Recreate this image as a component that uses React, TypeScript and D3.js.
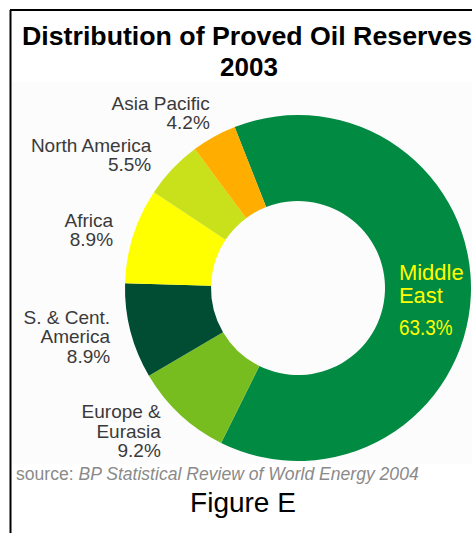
import React from "react";
import * as d3 from "d3";

const regions: string[] = ["Middle East", "Europe & Eurasia", "S. & Cent. America", "Africa", "North America", "Asia Pacific"];
const labelLines: string[][] = [["Middle", "East"], ["Europe &", "Eurasia"], ["S. & Cent.", "America"], ["Africa"], ["North America"], ["Asia Pacific"]];
const shares: number[] = [63.3, 9.2, 8.9, 8.9, 5.5, 4.2];
const colors: string[] = ["#008a42", "#78bd1f", "#004d33", "#ffff00", "#c8e11a", "#ffae00"];
const titleLines: string[] = ["Distribution of Proved Oil Reserves", "2003"];
const sourceLabel = "source: ";
const sourceText = "BP Statistical Review of World Energy 2004";
const figureLabel = "Figure E";

const W = 472;
const H = 533;

// small layout nudges for outside labels (by slice index)
const nudgeX = [0, -5, 0, 0, -6, 6];
const nudgeY = [0, 1, 0, 0, 0, -6];

export default function App() {
  const cx = 298;
  const cy = 288;
  const outerR = 173;
  const innerR = 87;
  const labelR = 194;
  const start = -0.375;

  const data = regions.map((r, i) => ({ region: r, value: shares[i], lines: labelLines[i], color: colors[i] }));
  const pie = d3
    .pie<any>()
    .sort(null)
    .value((d) => d.value)
    .startAngle(start)
    .endAngle(start + 2 * Math.PI);
  const arcs = pie(data);
  const arc = d3.arc<any>().innerRadius(innerR).outerRadius(outerR);
  const labelArc = d3.arc<any>().innerRadius(labelR).outerRadius(labelR);
  const ringMid = d3.arc<any>().innerRadius(130).outerRadius(130);

  const sans = "'Liberation Sans', Arial, Helvetica, sans-serif";
  const fs = 19;
  const lh = 19.5;

  return (
    <svg width={W} height={H} style={{ position: "absolute", left: 0, top: 0, background: "#fff" }}>
      <rect x={12} y={82} width={W - 12} height={382} fill="#fcfcfc" />
      <line x1={10} y1={10} x2={W} y2={10} stroke="#000" strokeWidth={2} />
      <line x1={10.5} y1={10} x2={10.5} y2={H} stroke="#000" strokeWidth={2} />

      <text x={22} y={45} fontFamily={sans} fontWeight="bold" fontSize={26} fill="#000" textLength={450} lengthAdjust="spacingAndGlyphs">
        {titleLines[0]}
      </text>
      <text x={249} y={76} fontFamily={sans} fontWeight="bold" fontSize={26} fill="#000" textAnchor="middle">
        {titleLines[1]}
      </text>

      <g transform={`translate(${cx},${cy})`}>
        {arcs.map((a, i) => (
          <path key={i} d={arc(a) as string} fill={a.data.color} />
        ))}
        {arcs.map((a, i) => {
          if (i === 0) {
            const [mx, my] = ringMid.centroid(a);
            const x0 = mx - 29;
            return (
              <g key={"l" + i} fill="#ffff00">
                <text x={x0} y={my - 14} fontFamily={sans} fontSize={22}>{a.data.lines[0]}</text>
                <text x={x0} y={my + 9} fontFamily={sans} fontSize={22}>{a.data.lines[1]}</text>
                <text transform={`translate(${x0},${my + 41}) scale(0.86,1)`} fontFamily={sans} fontSize={22}>{`${a.data.value}%`}</text>
              </g>
            );
          }
          const [lx0, ly0] = labelArc.centroid(a);
          const lx = lx0 + nudgeX[i];
          const ly = ly0 + nudgeY[i];
          const lines = [...a.data.lines, `${a.data.value}%`];
          const n = lines.length;
          const firstBaseline = ly - ((n - 1) * lh) / 2 + fs * 0.36;
          return (
            <g key={"l" + i} fill="#3a3a3a" fontFamily={sans} fontSize={fs} textAnchor="end">
              {lines.map((t, j) => (
                <text key={j} x={lx} y={firstBaseline + j * lh}>{t}</text>
              ))}
            </g>
          );
        })}
      </g>

      <text transform="translate(16,480) scale(0.925,1)" fontFamily={sans} fontSize={19} fill="#8a8a8a">
        <tspan>{sourceLabel}</tspan>
        <tspan fontStyle="italic">{sourceText}</tspan>
      </text>
      <text x={243} y={512} fontFamily={sans} fontSize={28} fill="#000" textAnchor="middle">
        {figureLabel}
      </text>
    </svg>
  );
}
